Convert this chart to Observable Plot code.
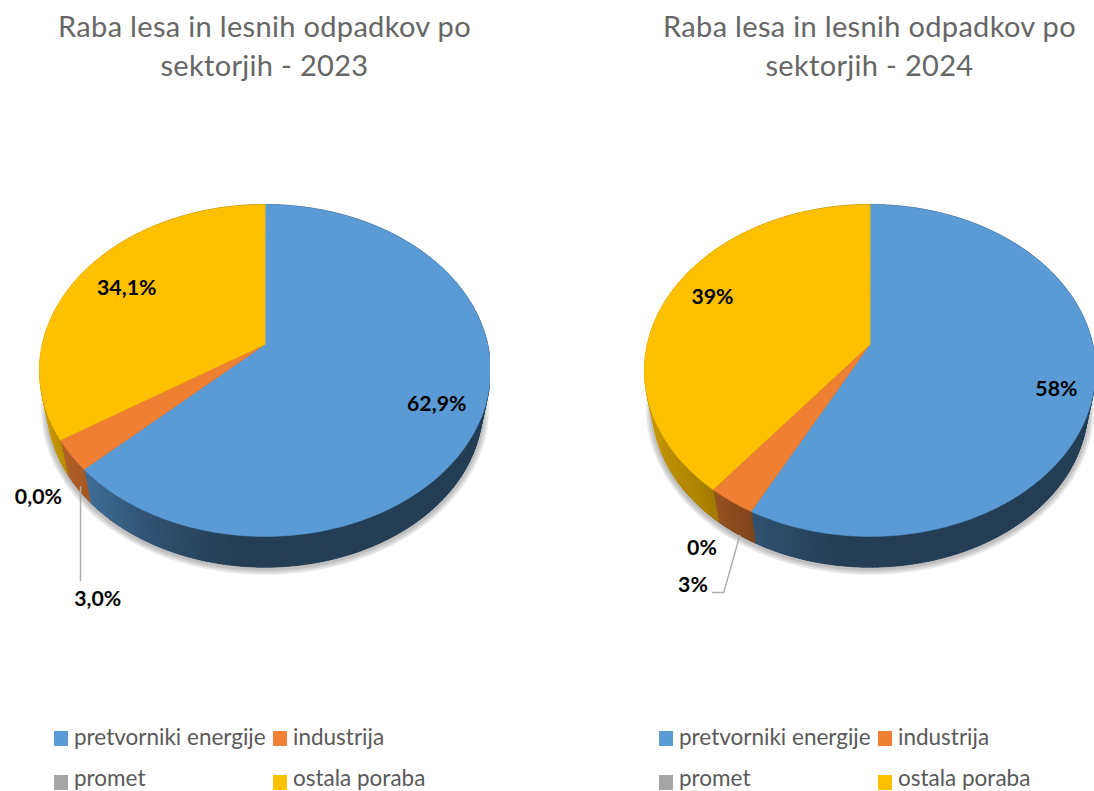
<!DOCTYPE html>
<html lang="sl">
<head>
<meta charset="utf-8">
<script src="https://cdn.jsdelivr.net/npm/d3@7"></script>
<script src="https://cdn.jsdelivr.net/npm/@observablehq/plot@0.6"></script>
<style>
  html, body { margin: 0; padding: 0; background: #fff; overflow: hidden; }
  body { width: 1094px; height: 791px; position: relative; font-family: Lato, sans-serif; }
  .panel { position: absolute; top: 0; width: 530px; height: 791px; overflow: hidden; }
  .title { position: absolute; top: 7px; left: 0; width: 529px; text-align: center; color: #666;
           font-size: 29px; line-height: 38.5px; letter-spacing: 0.32px; }
  .panel svg { position: absolute; left: 0; top: 100px; overflow: hidden; }
  .key { position: absolute; display: flex; align-items: center; color: #595959; font-size: 22.5px; line-height: 20px; height: 20px; white-space: nowrap; }
  .key i { display: block; width: 14px; height: 15px; margin-right: 6px; position: relative; top: 1px; }
</style>
</head>
<body>
<script>
const categories = ["pretvorniki energije", "industrija", "promet", "ostala poraba"];
const colors = ["#5b9bd5", "#ef7f32", "#a5a5a5", "#ffc000"];
const values2023 = [62.9, 3.0, 0.0, 34.1];
const values2024 = [57.6, 3.0, 0.0, 39.4];
const labels2023 = ["62,9%", "3,0%", "0,0%", "34,1%"];
const labels2024 = ["58%", "3%", "0%", "39%"];
const titles = ["Raba lesa in lesnih odpadkov po sektorjih - 2023", "Raba lesa in lesnih odpadkov po sektorjih - 2024"];

// Perspective of the tilted disc (screen units)
const view = {C: 222.7, D: 161.9, k: 0.1566, floorScale: 0.965, floorDrop: 37.5};
// Where each label sits: share position round the disc, and radius
const layouts = [
  {labelAt: [32.1, 57.1, 63.1, 83.1], labelR: [0.808, 1.397, 1.209, 0.752], leader: {at: 63.9, edge: 0.8, bends: [[0, 94]]}},
  {labelAt: [30.1, 57.8, 58.6, 81.2], labelR: [0.845, 1.369, 1.225, 0.801], leader: {at: 58.8, edge: 1, bends: [[-16, 57], [-27, 57]]}}
];
const shadowWidths = [13, 9, 5];

function roofPoint(pct, r = 1) {
  const t = pct / 100 * 2 * Math.PI, u = r * Math.sin(t), v = r * Math.cos(t), d = 1 + view.k * v;
  return [view.C * u / d, -view.D * v / d];
}
function floorPoint(pct) {
  const [x, y] = roofPoint(pct);
  return [x * view.floorScale, y * view.floorScale + view.floorDrop];
}
const shadeX = d3.scaleLinear().domain([-1, -0.75, -0.6, -0.45, -0.15, 1]).range([0.8, 0.68, 0.58, 0.5, 0.4, 0.4]).clamp(true);
function shade(color, f) {
  const c = d3.rgb(color);
  return d3.rgb(c.r * f, c.g * f, c.b * f).formatHex();
}

function pieChart(values, labels, layout) {
  const faces = [], sides = [], outline = [];
  let start = 0;
  values.forEach((value, i) => {
    const end = start + value;
    if (value > 0) {
      const n = Math.max(2, Math.ceil(value * 3.6));
      faces.push({x: 0, y: 0, id: i, color: colors[i]});
      for (let s = 0; s <= n; s++) {
        const [x, y] = roofPoint(start + (end - start) * s / n);
        faces.push({x, y, id: i, color: colors[i]});
      }
      for (let s = 0; s < n; s++) {
        const a = start + (end - start) * s / n, b = start + (end - start) * (s + 1) / n;
        const pts = [roofPoint(a), roofPoint(b), floorPoint(b), floorPoint(a)];
        const color = shade(colors[i], shadeX((pts[0][0] + pts[1][0]) / 2 / 225.5));
        pts.forEach(([x, y]) => sides.push({x, y, id: `${i}-${s}`, color}));
      }
    }
    start = end;
  });
  for (let p = 0; p <= 200; p++) {
    const [x, y] = floorPoint(p / 2);
    outline.push({x, y});
  }
  const texts = labels.map((label, i) => {
    const [x, y] = roofPoint(layout.labelAt[i], layout.labelR[i]);
    return {x, y, label};
  });
  const a = roofPoint(layout.leader.at), b = floorPoint(layout.leader.at), e = layout.leader.edge;
  const s0 = [a[0] + (b[0] - a[0]) * e, a[1] + (b[1] - a[1]) * e];
  const leader = [s0, ...layout.leader.bends.map(([dx, dy]) => [s0[0] + dx, s0[1] + dy])].map(([x, y]) => ({x, y}));

  return Plot.plot({
    width: 490, height: 540,
    margin: 0,
    x: {domain: [-264.5, 225.5], range: [0, 490], axis: null},
    y: {domain: [-244, 296], range: [0, 540], axis: null},
    color: {type: "identity"},
    style: {background: "transparent"},
    marks: [
      ...shadowWidths.map(w => Plot.line(outline, {x: "x", y: "y", stroke: "#000", strokeOpacity: 0.09, strokeWidth: w, dy: 1, curve: "linear-closed"})),
      Plot.line(outline, {x: "x", y: "y", fill: "#24405a", stroke: "none", curve: "linear-closed"}),
      Plot.line(sides, {x: "x", y: "y", z: "id", fill: "color", stroke: "color", strokeWidth: 0.6, curve: "linear-closed"}),
      Plot.line(faces, {x: "x", y: "y", z: "id", fill: "color", stroke: "color", strokeWidth: 0.5, curve: "linear-closed"}),
      Plot.line(leader, {x: "x", y: "y", stroke: "#adadad", strokeWidth: 1.5}),
      Plot.text(texts, {x: "x", y: "y", text: "label", fill: "#000", fontSize: 21.3, fontWeight: 700, fontFamily: "Lato, sans-serif", textAnchor: "middle"})
    ]
  });
}

const series = [[values2023, labels2023], [values2024, labels2024]];
const keyPos = [[54, 727], [273, 727], [54, 768], [273, 768]];
series.forEach(([values, labels], idx) => {
  const panel = document.createElement("div");
  panel.className = "panel";
  panel.style.left = (idx * 605) + "px";
  const t = document.createElement("div");
  t.className = "title";
  t.innerHTML = titles[idx].replace(" po sektorjih", " po<br>sektorjih");
  panel.appendChild(t);
  panel.appendChild(pieChart(values, labels, layouts[idx]));
  categories.forEach((c, i) => {
    const k = document.createElement("div");
    k.className = "key";
    k.style.left = keyPos[i][0] + "px";
    k.style.top = keyPos[i][1] + "px";
    const sw = document.createElement("i");
    sw.style.background = colors[i];
    if (i > 1) sw.style.top = "4px";
    k.appendChild(sw);
    k.appendChild(document.createTextNode(c));
    panel.appendChild(k);
  });
  document.body.appendChild(panel);
});
</script>
</body>
</html>
